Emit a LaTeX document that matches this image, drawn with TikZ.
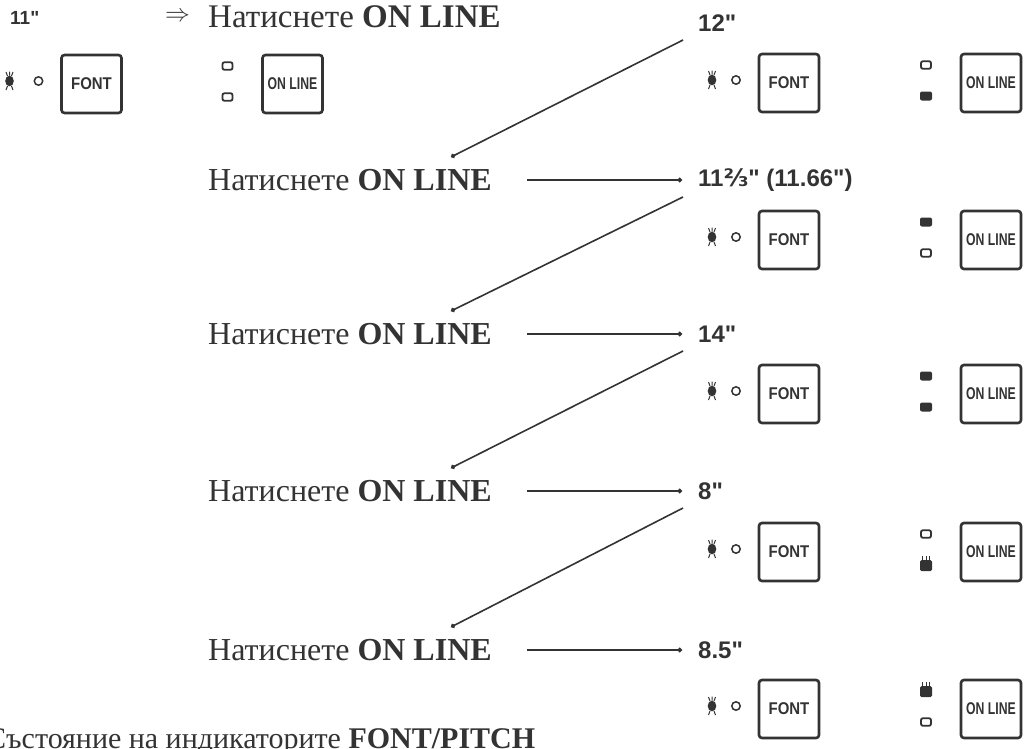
\documentclass[tikz,border=0pt]{standalone}
\usepackage{fontspec}
\setmainfont{Liberation Serif}
\newfontfamily\lsans{Liberation Sans}
\newfontfamily\dvsans{DejaVu Sans}
\usetikzlibrary{arrows.meta,calc}
\definecolor{ink}{gray}{0.2}
\newcommand\litled[2]{\begin{scope}[shift={(#1,#2)}]
  \fill[ink] (0,0) ellipse (4.3pt and 5.3pt);
  \draw[ink,line width=1pt] (-3.5,-9)--(-2,-5) (3.5,-9)--(2,-5) (0,-9.5)--(0,-5.5)
     (-3.5,9)--(-2,5) (3.5,9)--(2,5);
\end{scope}}
\newcommand\offled[2]{\draw[ink,line width=1.5pt] (#1,#2) circle (4.2pt);}
\newcommand\ind[3]{\begin{scope}[shift={(#1,#2)}]
  \ifcase#3 \draw[ink,line width=1.8pt,rounded corners=2pt] (-5,-3.8) rectangle (5,3.8);
  \or \fill[ink,rounded corners=2pt] (-6,-4.5) rectangle (6,4.5);
  \or \fill[ink,rounded corners=1.5pt] (-6,-5) rectangle (6,6);
      \draw[ink,line width=0.9pt] (-3.5,-5)--(-3.5,-9) (0,-5)--(0,-9) (3.5,-5)--(3.5,-9);
  \fi
\end{scope}}
% #1 suffix, #2 FONT cx, #3 ONLINE cx, #4 cy, #5 top state, #6 bottom state, #7 led offset
\newcommand\keyrow[7]{%
  \node[keybox] (f#1) at (#2,#4) {\scalebox{0.88}[1]{FONT}};
  \node[keybox] (o#1) at (#3,#4) {\scalebox{0.72}[1]{ON LINE}};
  \litled{#2-#7}{#4-3}
  \offled{#2-53}{#4-3}
  \ind{#3-65}{#4-18}{#5}
  \ind{#3-65}{#4+13}{#6}
}
\begin{document}
\begin{tikzpicture}[x=1pt,y=-1pt,
  keybox/.style={draw=ink,line width=2.6pt,rounded corners=3pt,minimum width=60pt,
     minimum height=58pt,inner sep=0pt,text=ink,font=\lsans\bfseries\fontsize{17}{17}\selectfont},
  press/.style={anchor=west,inner sep=0pt,text=ink,font=\fontsize{32}{34}\selectfont},
  val/.style={anchor=west,inner sep=0pt,text=ink,font=\lsans\bfseries\fontsize{24}{26}\selectfont},
  conn/.style={draw=ink,line width=1.6pt,-{Circle[length=4.5pt]}}]
\useasboundingbox (0,0) rectangle (1026,748);
\fill[white] (0,0) rectangle (1026,748);

% top-left start
\node[val,font=\lsans\bfseries\fontsize{19}{20}\selectfont] (v0) at (10,18) {11"};
\node[anchor=west,inner sep=0pt,text=ink,font=\fontsize{26}{26}\selectfont] (arr0) at (165,17) {$\Rightarrow$};
\node[press,font=\fontsize{33}{34}\selectfont] (p1) at (208,17) {Натиснете \textbf{ON LINE}};
\keyrow{0}{91.5}{292.5}{84}{0}{0}{82}

% press rows
\node[press] (p2) at (208,180) {Натиснете \textbf{ON LINE}};
\node[press] (p3) at (208,334) {Натиснете \textbf{ON LINE}};
\node[press] (p4) at (208,491) {Натиснете \textbf{ON LINE}};
\node[press] (p5) at (208,650) {Натиснете \textbf{ON LINE}};

% values
\node[val] (v1) at (698,23) {12"};
\node[val] (v2) at (698,180) {11{\dvsans\bfseries ⅔}" (11.66")};
\node[val] (v3) at (698,334) {14"};
\node[val] (v4) at (698,491) {8"};
\node[val] (v5) at (698,650) {8.5"};

\keyrow{1}{789}{991}{83}{0}{1}{77}
\keyrow{2}{789}{991}{240}{1}{0}{77}
\keyrow{3}{789}{991}{394}{1}{1}{77}
\keyrow{4}{789}{991}{552}{0}{2}{77}
\keyrow{5}{789}{991}{709}{2}{0}{77}

% horizontal connectors
\foreach \i in {2,3,4,5}{
  \draw[conn,shorten <=35pt,shorten >=16pt] (p\i.east) -- (v\i.west);
}
% diagonal connectors
\foreach \i/\j in {1/2,2/3,3/4,4/5}{
  \coordinate (d\i) at ($(v\i.west)+(-15,17)$);
  \coordinate (e\j) at ($(p\j.west)+(243,-23)$);
  \draw[conn] (d\i) -- (e\j);
}

% bottom caption (cut by page edge as in the scan)
\node[anchor=base west,inner sep=0pt,text=ink,font=\fontsize{30}{32}\selectfont] (cap) at (-14,748)
  {Състояние на индикаторите \textbf{FONT/PITCH}};
\end{tikzpicture}
\end{document}
